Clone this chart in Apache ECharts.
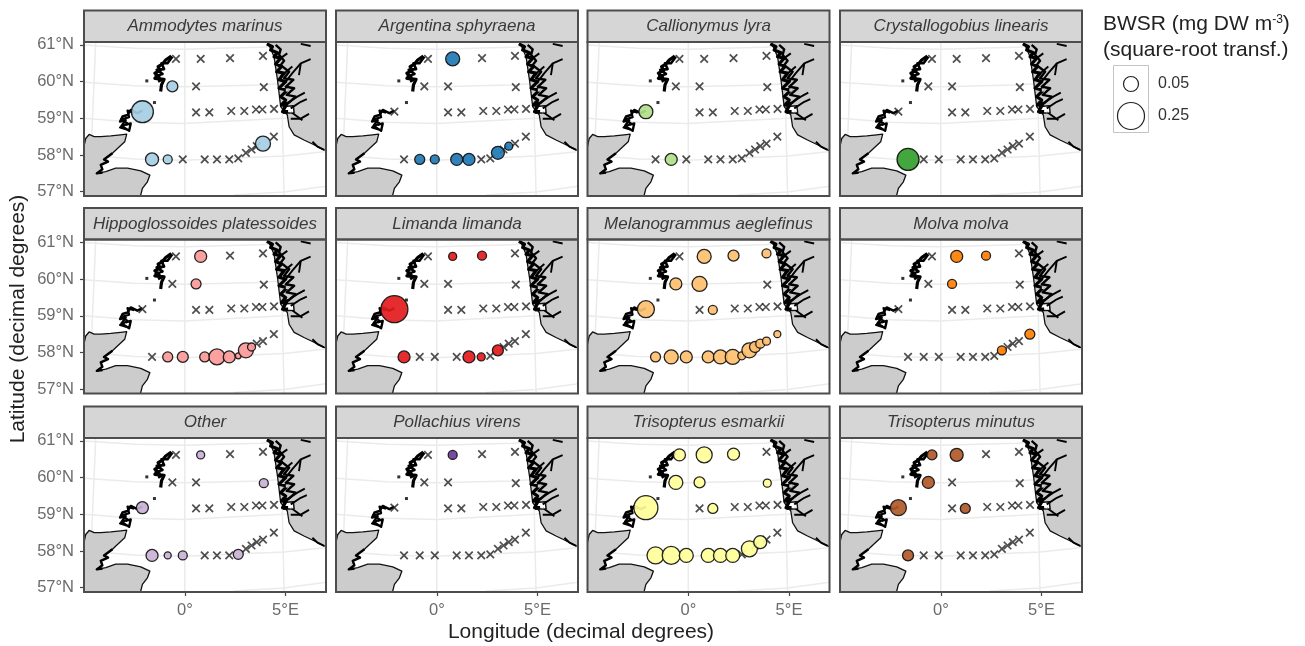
<!DOCTYPE html>
<html><head><meta charset="utf-8">
<style>html,body{margin:0;padding:0;background:#fff}#c{width:1305px;height:646px}</style>
<script src="https://cdn.jsdelivr.net/npm/echarts@6/dist/echarts.min.js"></script>
</head><body><div id="c"></div>
<script>
// ---------- data ----------
const speciesNames = ['Ammodytes marinus','Argentina sphyraena','Callionymus lyra','Crystallogobius linearis',
 'Hippoglossoides platessoides','Limanda limanda','Melanogrammus aeglefinus','Molva molva',
 'Other','Pollachius virens','Trisopterus esmarkii','Trisopterus minutus'];
const speciesColors = ['#a6cee3','#1f78b4','#b2df8a','#33a02c','#fb9a99','#e31a1c','#fdbf6f','#ff7f00','#cab2d6','#6a3d9a','#ffff99','#b15928'];
// survey stations [lon, lat]
const stations = [[-0.45,60.62],[0.78,60.62],[2.24,60.64],[3.88,60.70],
 [-0.63,59.87],[0.55,59.87],[3.92,59.85],
 [-2.12,59.18],[0.55,59.16],[1.21,59.16],[2.30,59.20],[2.95,59.20],[3.53,59.24],[3.85,59.24],[4.43,59.26],
 [-1.64,57.88],[-0.86,57.88],[-0.11,57.88],[0.98,57.88],[1.59,57.88],[2.20,57.88],[2.65,57.91],
 [3.03,58.06],[3.31,58.15],[3.57,58.24],[3.88,58.31],[4.42,58.50]];
// BWSR per species: [station index, value]
const ammodytes = [[4,.0213],[7,.142],[15,.0337],[16,.0123],[25,.05]];
const argentina = [[1,.0413],[16,.0164],[17,.0123],[18,.0271],[19,.0271],[22,.0337],[24,.0089]];
const callionymus = [[7,.0413],[16,.0271]];
const crystallogobius = [[15,.142]];
const hippoglossoides = [[1,.0271],[5,.0164],[16,.0164],[17,.0213],[18,.0164],[19,.0596],[20,.0271],[21,.004],[22,.05],[23,.0089]];
const limanda = [[1,.0089],[2,.0123],[7,.25],[15,.0271],[19,.0271],[20,.0089],[22,.0213]];
const melanogrammus = [[1,.0413],[2,.0213],[3,.0123],[4,.0271],[5,.05],[7,.0703],[9,.0123],[15,.0164],[16,.0413],[17,.0271],[18,.0271],[19,.0413],[20,.05],[21,.0089],[22,.05],[23,.0213],[24,.0123],[25,.0089],[26,.0062]];
const molva = [[1,.0271],[2,.0123],[5,.0123],[22,.0123],[26,.0164]];
const other = [[1,.0089],[6,.0123],[7,.0271],[15,.0271],[16,.0062],[17,.0123],[21,.0164]];
const pollachius = [[1,.0123]];
const esmarkii = [[0,.0271],[1,.0596],[2,.0271],[4,.0413],[5,.0213],[6,.0089],[7,.181],[9,.0164],[15,.0703],[16,.0822],[17,.0413],[18,.0413],[19,.0413],[20,.0413],[22,.0596],[24,.0337]];
const minutus = [[0,.0164],[1,.0337],[4,.0271],[7,.0596],[9,.0164],[15,.0213]];
const speciesValues = [ammodytes,argentina,callionymus,crystallogobius,hippoglossoides,limanda,melanogrammus,molva,other,pollachius,esmarkii,minutus];
const legendValues = [0.05,0.25];
const lonTicks = [0,5];
const lonTickLabels = ['0°','5°E'];
const latTicks = [57,58,59,60,61];
const latTickLabels = ['57°N','58°N','59°N','60°N','61°N'];
// graticule lines [lon, lat]
const parallel61 = [[-5.02,61.0],[-2.5,60.91],[-0.05,60.88],[3.77,60.94],[6.92,61.06],[7.2,61.09]];
const parallel60 = [[-5.02,59.98],[-2.5,59.89],[-0.05,59.86],[3.77,59.91],[6.92,60.03],[7.2,60.06]];
const parallel59 = [[-5.02,59.0],[-2.5,58.89],[-0.05,58.86],[4.93,59.0],[6.92,59.12],[7.2,59.15]];
const parallel58 = [[-5.02,58.0],[-2.5,57.89],[-0.05,57.86],[4.93,57.97],[6.92,58.09],[7.2,58.12]];
const parallel57 = [[2.44,56.91],[4.93,56.99],[6.92,57.14],[7.2,57.18]];
const meridianW5 = [[-4.44,61.1],[-4.77,56.85]];
const meridian0 = [[-0.01,61.1],[-0.01,56.85]];
const meridianE5 = [[4.76,61.1],[4.93,56.85]];
// coastline [lon, lat]
const scotland = [[-5.2,58.25],[-5.02,58.25],[-4.94,58.45],[-4.77,58.56],[-4.52,58.50],[-4.19,58.50],[-3.69,58.52],[-3.20,58.55],[-2.90,58.57],[-3.0,58.36],[-3.36,58.18],[-3.61,58.05],[-4.03,57.88],[-3.83,57.82],[-4.19,57.73],[-4.11,57.61],[-4.39,57.50],[-3.94,57.55],[-3.45,57.64],[-2.86,57.64],[-2.20,57.57],[-1.75,57.45],[-1.87,57.27],[-2.12,57.09],[-2.23,56.85],[-5.2,56.85]];
const moray = [[-3.61,58.05],[-4.03,57.88],[-3.83,57.82],[-4.19,57.73],[-4.11,57.61],[-4.39,57.50],[-4.1,57.52]];
const norway = [[4.02,61.2],[4.43,60.68],[4.6,60.05],[4.76,59.32],[5.09,59.09],[5.18,58.77],[5.43,58.55],[5.92,58.41],[6.34,58.30],[6.92,58.14],[7.25,58.09],[7.3,61.2]];
const norwayIslands = [[4.07,61.03],[4.35,60.95],[4.26,60.86],[4.60,60.79],[4.43,60.68],[4.76,60.64],[4.51,60.48],[4.80,60.41],[4.56,60.27],[4.93,60.23],[4.68,60.05],[5.01,60.0],[4.68,59.82],[5.09,59.77],[4.76,59.59],[5.01,59.50],[4.80,59.36],[5.09,59.41],[4.85,59.18],[5.13,59.18]];
const norwayInner = [[4.51,61.0],[4.76,60.88],[4.68,60.73],[4.93,60.57],[4.76,60.45],[5.18,60.27],[4.93,60.09],[5.39,60.05],[5.01,59.86],[5.43,59.82],[5.06,59.64],[5.51,59.59],[5.13,59.41]];
const fjords = [
 [[5.01,60.0],[5.34,60.23],[5.76,60.50],[6.25,60.61]],
 [[5.76,60.50],[5.67,60.18]],
 [[4.76,60.14],[5.34,60.41]],
 [[5.09,59.41],[5.59,59.59],[5.96,59.70]],
 [[5.26,59.27],[5.76,59.45],[6.06,59.52]],
 [[5.26,58.99],[5.76,58.99],[6.17,59.12]],
 [[5.26,59.18],[5.84,58.95]],
 [[6.34,58.36],[6.59,58.23],[6.92,58.14]],
 [[5.76,61.03],[6.25,60.97]],
 [[4.76,60.64],[5.09,60.77]]];
const seaPatch = [[4.9,59.32],[5.39,59.34],[5.43,59.15],[4.9,59.14]];
const shetland = [[-0.68,60.70],[-0.96,60.59],[-1.12,60.48],[-1.34,60.41],[-1.24,60.30],[-1.5,60.23],[-1.29,60.12],[-1.5,60.09],[-1.04,60.06],[-1.17,59.91],[-1.21,59.73]];
const shetlandEast = [[-0.63,60.68],[-0.87,60.50],[-1.17,60.50],[-1.04,60.34],[-1.41,60.32],[-1.12,60.21],[-1.46,60.15],[-1.17,60.05],[-1.34,60.0]];
const orkney = [[-2.12,59.21],[-2.37,59.14],[-2.70,59.23],[-2.86,59.09],[-3.11,59.05],[-3.23,58.91],[-2.95,58.95],[-3.16,58.79],[-2.78,58.66],[-2.70,58.86],[-2.95,58.82]];
const orkneyWest = [[-2.53,59.15],[-2.86,59.21],[-2.78,59.03],[-3.16,58.97],[-2.86,58.86],[-3.23,58.75],[-2.9,58.70]];
const islets = [[-1.9,60.02],[-1.52,59.43]];
const seaGaps = [[5.09,59.77],[5.3,59.2]];

// ---------- layout ----------
const colLeft=[84,336,587.5,840], panelW=242, panelH=154, stripH=31.5;
const rowTop=[42,239.5,438];
const lonMin=-5.025, lonMax=7.015, latMin=56.883, latMax=61.08;
const sizeOf = v => 44.8*Math.pow(v,0.365);

const grat=[parallel61,parallel60,parallel59,parallel58,parallel57,meridianW5,meridian0,meridianE5];
const shapes=[];
grat.forEach(p=>shapes.push({p,stroke:'#ebebeb',w:1.5}));
shapes.push({p:scotland,fill:'#cccccc',stroke:'#111',w:1.3});
shapes.push({p:moray,stroke:'#000',w:2.4});
shapes.push({p:norway,fill:'#cccccc',stroke:'#111',w:1.3});
shapes.push({p:seaPatch,fill:'#ffffff',stroke:'#111',w:1.5});
shapes.push({p:norwayIslands,stroke:'#000',w:3.2});
shapes.push({p:norwayInner,stroke:'#000',w:2.4});
fjords.forEach(p=>shapes.push({p,stroke:'#000',w:1.9}));
shapes.push({p:shetland,stroke:'#000',w:3.2});
shapes.push({p:shetlandEast,stroke:'#000',w:2.6});
shapes.push({p:orkney,stroke:'#000',w:2.4});
shapes.push({p:orkneyWest,stroke:'#000',w:2.2});

const grid=[],xAxis=[],yAxis=[],series=[],graphic=[];
const textCol='#6b6b6b';
speciesNames.forEach((name,i)=>{
  const c=i%4,r=Math.floor(i/4),L=colLeft[c],T=rowTop[r];
  grid.push({left:L,top:T,width:panelW,height:panelH,show:true,backgroundColor:'#fff',borderWidth:0,containLabel:false});
  xAxis.push({gridIndex:i,type:'value',min:lonMin,max:lonMax,splitLine:{show:false},axisLine:{show:false,onZero:false},
    axisTick:{show:r===2,customValues:lonTicks,length:4,lineStyle:{color:'#444',width:1.2}},
    axisLabel:{show:r===2,customValues:lonTicks,margin:10,color:textCol,fontSize:16.5,fontFamily:'Liberation Sans',
      formatter:v=>lonTickLabels[lonTicks.indexOf(v)]}});
  yAxis.push({gridIndex:i,type:'value',min:latMin,max:latMax,splitLine:{show:false},axisLine:{show:false,onZero:false},
    axisTick:{show:c===0,customValues:latTicks,length:4,lineStyle:{color:'#444',width:1.2}},
    axisLabel:{show:c===0,customValues:latTicks,margin:10,color:textCol,fontSize:16.5,fontFamily:'Liberation Sans',
      formatter:v=>latTickLabels[latTicks.indexOf(v)]}});
  series.push({type:'custom',xAxisIndex:i,yAxisIndex:i,clip:true,silent:true,z:1,
    data:shapes.map((s,k)=>[k]),encode:{x:0},
    renderItem:(params,api)=>{
      const s=shapes[api.value(0)];
      const pts=s.p.map(q=>api.coord(q));
      return s.fill
       ?{type:'polygon',shape:{points:pts},style:{fill:s.fill,stroke:s.stroke,lineWidth:s.w,lineJoin:'round'}}
       :{type:'polyline',shape:{points:pts},style:{fill:null,stroke:s.stroke,lineWidth:s.w,lineJoin:'round'}};
    }});
  series.push({type:'scatter',xAxisIndex:i,yAxisIndex:i,symbol:'rect',symbolSize:3,silent:true,z:2,
    itemStyle:{color:'#000'},data:islets});
  series.push({type:'scatter',xAxisIndex:i,yAxisIndex:i,symbol:'rect',symbolSize:3,silent:true,z:2,
    itemStyle:{color:'#fff'},data:seaGaps});
  const vals=speciesValues[i], present=new Set(vals.map(d=>d[0]));
  series.push({type:'scatter',xAxisIndex:i,yAxisIndex:i,silent:true,z:3,
    symbol:'path://M0 0L10 10M10 0L0 10',symbolSize:7.5,
    itemStyle:{color:'none',borderColor:'#222',borderWidth:1.7},
    data:stations.filter((s,k)=>!present.has(k))});
  series.push({type:'scatter',xAxisIndex:i,yAxisIndex:i,silent:true,z:4,
    symbol:'circle',symbolSize:d=>sizeOf(d[2]),
    itemStyle:{color:speciesColors[i],opacity:0.92,borderColor:'#111',borderWidth:1.3},
    data:vals.map(d=>[stations[d[0]][0],stations[d[0]][1],d[1]])});
  // strip
  graphic.push({type:'rect',z:50,shape:{x:L,y:T-stripH,width:panelW,height:stripH},
    style:{fill:'#d6d6d6',stroke:'#4d4d4d',lineWidth:2}});
  graphic.push({type:'text',z:51,x:L+panelW/2,y:T-stripH/2+0.5,
    style:{text:name,fill:'#3a3a3a',font:'italic 17px "Liberation Sans"',align:'center',verticalAlign:'middle'}});
  graphic.push({type:'rect',z:50,shape:{x:L,y:T,width:panelW,height:panelH},
    style:{fill:'none',stroke:'#4d4d4d',lineWidth:2}});
});
// axis titles
graphic.push({type:'text',z:51,x:581,y:632,style:{text:'Longitude (decimal degrees)',fill:'#222',font:'21px "Liberation Sans"',align:'center',verticalAlign:'middle'}});
graphic.push({type:'text',z:51,x:18,y:319,rotation:Math.PI/2,style:{text:'Latitude (decimal degrees)',fill:'#222',font:'21px "Liberation Sans"',align:'center',verticalAlign:'middle'}});
// legend
graphic.push({type:'text',z:51,x:1103,y:24,style:{rich:{a:{font:'21px "Liberation Sans"',fill:'#222'},s:{font:'12px "Liberation Sans"',fill:'#222',verticalAlign:'top',padding:[0,0,7,0]}},text:'{a|BWSR (mg DW m}{s|-3}{a|)}',verticalAlign:'middle',align:'left'}});
graphic.push({type:'text',z:51,x:1103,y:50,style:{text:'(square-root transf.)',fill:'#222',font:'21px "Liberation Sans"',verticalAlign:'middle',align:'left'}});
graphic.push({type:'rect',z:50,shape:{x:1113.5,y:65.5,width:35,height:67},style:{fill:'#fff',stroke:'#c4c4c4',lineWidth:1}});
const legendY=[84,116];
legendValues.forEach((v,k)=>{
  graphic.push({type:'circle',z:51,shape:{cx:1131,cy:legendY[k],r:sizeOf(v)/2},style:{fill:'#fff',stroke:'#222',lineWidth:1.2}});
  graphic.push({type:'text',z:51,x:1158,y:legendY[k],style:{text:v.toFixed(2),fill:'#333',font:'16px "Liberation Sans"',verticalAlign:'middle',align:'left'}});
});

const chart=echarts.init(document.getElementById('c'),null,{renderer:'canvas'});
chart.setOption({animation:false,backgroundColor:'#fff',grid,xAxis,yAxis,series,graphic});
</script></body></html>
